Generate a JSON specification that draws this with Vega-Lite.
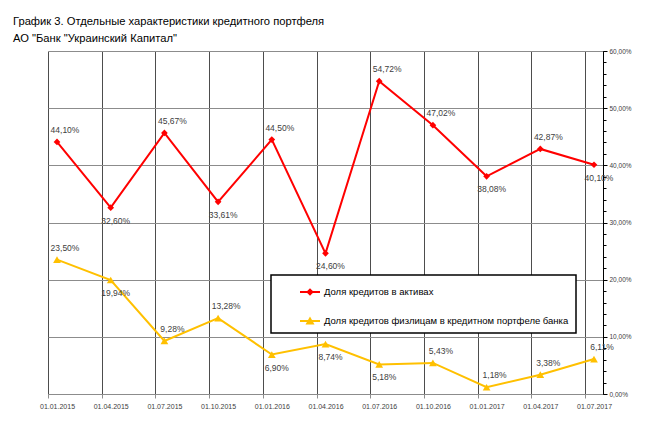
{
  "$schema": "https://vega.github.io/schema/vega-lite/v6.json",
  "width": 555,
  "height": 343,
  "autosize": {"type": "none"},
  "padding": {"left": 48, "top": 51, "right": 50, "bottom": 31},
  "background": "white",
  "title": {
    "text": ["График 3. Отдельные характеристики кредитного портфеля", "АО \"Банк \"Украинский Капитал\""],
    "anchor": "start",
    "frame": "group",
    "font": "Liberation Sans",
    "fontSize": 11.2,
    "fontWeight": "normal",
    "color": "black",
    "baseline": "alphabetic",
    "lineHeight": 17,
    "offset": 13,
    "dx": -35,
    "dy": 18
  },
  "config": {
    "locale": {"number": {"decimal": ",", "thousands": " ", "grouping": [3], "currency": ["", ""]}},
    "view": {"stroke": null},
    "font": "Liberation Sans",
    "legend": {"strokeWidth": 1.5, "rowPadding": 14, "padding": 7, "labelLimit": 600}
  },
  "data": {
    "values": [
      {"date": "01.01.2015", "series": "Доля кредитов в активах", "value": 0.4410},
      {"date": "01.04.2015", "series": "Доля кредитов в активах", "value": 0.3260},
      {"date": "01.07.2015", "series": "Доля кредитов в активах", "value": 0.4567},
      {"date": "01.10.2015", "series": "Доля кредитов в активах", "value": 0.3361},
      {"date": "01.01.2016", "series": "Доля кредитов в активах", "value": 0.4450},
      {"date": "01.04.2016", "series": "Доля кредитов в активах", "value": 0.2460},
      {"date": "01.07.2016", "series": "Доля кредитов в активах", "value": 0.5472},
      {"date": "01.10.2016", "series": "Доля кредитов в активах", "value": 0.4702},
      {"date": "01.01.2017", "series": "Доля кредитов в активах", "value": 0.3808},
      {"date": "01.04.2017", "series": "Доля кредитов в активах", "value": 0.4287},
      {"date": "01.07.2017", "series": "Доля кредитов в активах", "value": 0.4010},
      {"date": "01.01.2015", "series": "Доля кредитов физлицам в кредитном портфеле банка", "value": 0.2350},
      {"date": "01.04.2015", "series": "Доля кредитов физлицам в кредитном портфеле банка", "value": 0.1994},
      {"date": "01.07.2015", "series": "Доля кредитов физлицам в кредитном портфеле банка", "value": 0.0928},
      {"date": "01.10.2015", "series": "Доля кредитов физлицам в кредитном портфеле банка", "value": 0.1328},
      {"date": "01.01.2016", "series": "Доля кредитов физлицам в кредитном портфеле банка", "value": 0.0690},
      {"date": "01.04.2016", "series": "Доля кредитов физлицам в кредитном портфеле банка", "value": 0.0874},
      {"date": "01.07.2016", "series": "Доля кредитов физлицам в кредитном портфеле банка", "value": 0.0518},
      {"date": "01.10.2016", "series": "Доля кредитов физлицам в кредитном портфеле банка", "value": 0.0543},
      {"date": "01.01.2017", "series": "Доля кредитов физлицам в кредитном портфеле банка", "value": 0.0118},
      {"date": "01.04.2017", "series": "Доля кредитов физлицам в кредитном портфеле банка", "value": 0.0338},
      {"date": "01.07.2017", "series": "Доля кредитов физлицам в кредитном портфеле банка", "value": 0.0611}
    ]
  },
  "encoding": {
    "x": {
      "field": "date",
      "type": "ordinal",
      "sort": null,
      "scale": {"type": "point", "padding": 0.1676},
      "axis": {
        "title": null,
        "labelAngle": 0,
        "labelOverlap": false,
        "tickOffset": -9,
        "labelOffset": 9,
        "grid": true,
        "gridColor": "#4d4d4d",
        "gridWidth": 1,
        "domainColor": "#8c8c8c",
        "tickColor": "#8c8c8c",
        "tickSize": 4,
        "labelFontSize": 7,
        "labelColor": "#404040",
        "labelPadding": 4
      }
    },
    "y": {
      "field": "value",
      "type": "quantitative",
      "scale": {"domain": [0, 0.6], "nice": false, "zero": true},
      "axis": null
    }
  },
  "layer": [
    {
      "transform": [{"filter": "datum.series == 'Доля кредитов в активах'"}],
      "mark": {"type": "line", "strokeWidth": 2, "color": "#ff0000"},
      "encoding": {
        "y": {
          "field": "value",
          "type": "quantitative",
          "scale": {"domain": [0, 0.6], "nice": false, "zero": true},
          "axis": {
            "orient": "right",
            "title": null,
            "values": [0, 0.1, 0.2, 0.3, 0.4, 0.5, 0.6],
            "format": ".2%",
            "grid": true,
            "gridColor": "#8c8c8c",
            "gridWidth": 1,
            "domainColor": "black",
            "tickColor": "black",
            "tickSize": 4,
            "labelFontSize": 6.5,
            "labelColor": "#404040",
            "labelPadding": 2
          }
        }
      }
    },
    {
      "transform": [{"filter": "datum.series != 'Доля кредитов в активах'"}],
      "mark": {"type": "line", "strokeWidth": 2, "color": "#ffc000"}
    },
    {
      "transform": [{"filter": "datum.series == 'Доля кредитов в активах'"}],
      "mark": {"type": "point", "shape": "diamond", "filled": true, "size": 45, "opacity": 1, "color": "#ff0000"},
      "encoding": {
        "y": {
          "field": "value",
          "type": "quantitative",
          "scale": {"domain": [0, 0.6], "nice": false, "zero": true},
          "axis": {
            "orient": "right",
            "title": null,
            "values": [0, 0.02, 0.04, 0.06, 0.08, 0.1, 0.12, 0.14, 0.16, 0.18, 0.2, 0.22, 0.24, 0.26, 0.28, 0.3, 0.32, 0.34, 0.36, 0.38, 0.4, 0.42, 0.44, 0.46, 0.48, 0.5, 0.52, 0.54, 0.56, 0.58, 0.6],
            "labels": false,
            "grid": false,
            "domain": false,
            "tickColor": "black",
            "tickSize": 3
          }
        }
      }
    },
    {
      "transform": [{"filter": "datum.series != 'Доля кредитов в активах'"}],
      "mark": {"type": "point", "shape": "triangle-up", "filled": true, "size": 60, "opacity": 1, "color": "#ffc000"}
    },
    {
      "transform": [{"filter": "!((datum.series == 'Доля кредитов в активах') ? indexof(['01.04.2015','01.10.2015','01.04.2016','01.01.2017','01.07.2017'], datum.date) >= 0 : indexof(['01.04.2015','01.01.2016','01.04.2016','01.07.2016'], datum.date) >= 0)"}],
      "mark": {"type": "text", "dx": 8, "dy": -12, "fontSize": 8.5, "color": "#404040"},
      "encoding": {
        "text": {"field": "value", "type": "quantitative", "format": ".2%"}
      }
    },
    {
      "transform": [{"filter": "(datum.series == 'Доля кредитов в активах') ? indexof(['01.04.2015','01.10.2015','01.04.2016','01.01.2017','01.07.2017'], datum.date) >= 0 : indexof(['01.04.2015','01.01.2016','01.04.2016','01.07.2016'], datum.date) >= 0"}],
      "mark": {"type": "text", "dx": 5, "dy": 13, "fontSize": 8.5, "color": "#404040"},
      "encoding": {
        "text": {"field": "value", "type": "quantitative", "format": ".2%"}
      }
    },
    {
      "mark": {"type": "point", "filled": true, "opacity": 0, "size": 0},
      "encoding": {
        "color": {
          "field": "series",
          "type": "nominal",
          "scale": {"domain": ["Доля кредитов в активах", "Доля кредитов физлицам в кредитном портфеле банка"], "range": ["#ff0000", "#ffc000"]},
          "legend": {
            "orient": "none",
            "legendX": 223,
            "legendY": 224,
            "title": null,
            "direction": "vertical",
            "fillColor": "white",
            "strokeColor": "black",
            "symbolSize": 400,
            "symbolOffset": 22,
            "symbolOpacity": 1,
            "labelOffset": 4,
            "labelFontSize": 9.5,
            "labelColor": "black",
            "symbolStrokeWidth": 0,
            "labelExpr": "datum.label + '\u00a0\u00a0\u00a0\u00a0\u00a0\u00a0\u00a0\u00a0\u00a0\u00a0\u00a0\u00a0\u00a0\u00a0\u00a0\u00a0\u00a0\u00a0'"
          }
        },
        "shape": {
          "field": "series",
          "type": "nominal",
          "scale": {"domain": ["Доля кредитов в активах", "Доля кредитов физлицам в кредитном портфеле банка"], "range": ["M-1,-0.1L1,-0.1L1,0.1L-1,0.1Z M0,-0.38L0.38,0L0,0.38L-0.38,0Z", "M-1,-0.1L1,-0.1L1,0.1L-1,0.1Z M0,-0.45L0.45,0.35L-0.45,0.35Z"]},
          "legend": {
            "orient": "none",
            "legendX": 223,
            "legendY": 224,
            "title": null,
            "direction": "vertical",
            "fillColor": "white",
            "strokeColor": "black",
            "symbolSize": 400,
            "symbolOffset": 22,
            "symbolOpacity": 1,
            "labelOffset": 4,
            "labelFontSize": 9.5,
            "labelColor": "black",
            "symbolStrokeWidth": 0,
            "labelExpr": "datum.label + '\u00a0\u00a0\u00a0\u00a0\u00a0\u00a0\u00a0\u00a0\u00a0\u00a0\u00a0\u00a0\u00a0\u00a0\u00a0\u00a0\u00a0\u00a0'"
          }
        }
      }
    }
  ],
  "resolve": {"axis": {"y": "independent"}}
}
